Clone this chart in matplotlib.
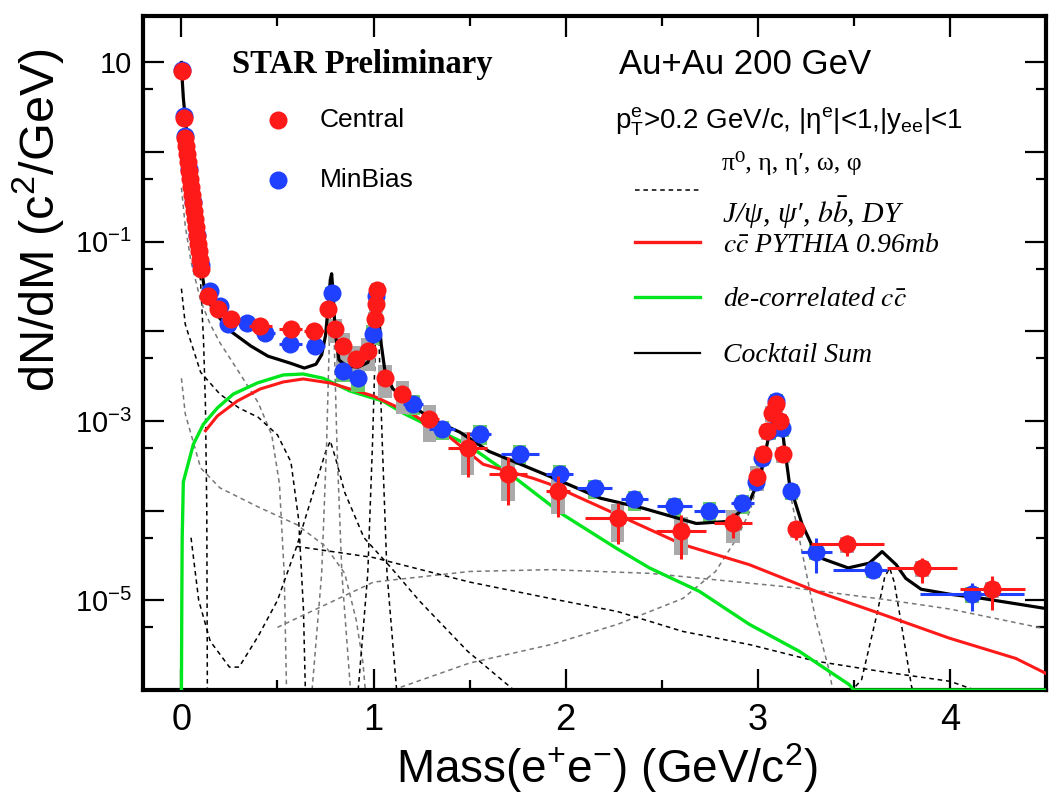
import numpy as np
import matplotlib
matplotlib.use('Agg')
import matplotlib.pyplot as plt
from matplotlib.ticker import FixedLocator, FuncFormatter, NullFormatter

# Central Au+Au data points
cen_mass = [0.005, 0.012, 0.02, 0.025, 0.03, 0.035, 0.04, 0.045, 0.05, 0.055,
            0.06, 0.065, 0.07, 0.075, 0.08, 0.085, 0.09, 0.095, 0.10,
            0.14, 0.19, 0.26, 0.41, 0.57, 0.69, 0.765, 0.80, 0.84, 0.91, 0.97,
            1.005, 1.012, 1.02, 1.06, 1.15, 1.29, 1.49, 1.70, 1.96, 2.27, 2.60,
            2.87, 2.995, 3.025, 3.05, 3.075, 3.095, 3.115, 3.13, 3.20, 3.465,
            3.855, 4.22]
cen_dndm = [8.1, 2.4, 1.45, 1.17, 0.95, 0.77, 0.62, 0.5, 0.41, 0.33, 0.27, 0.22,
            0.18, 0.145, 0.115, 0.095, 0.078, 0.062, 0.05,
            0.025, 0.0178, 0.0138, 0.0115, 0.0107, 0.0101, 0.0178, 0.0107, 0.0069,
            0.0049, 0.0061, 0.0138, 0.02, 0.029, 0.003, 0.002, 0.00105, 5.0e-4,
            2.55e-4, 1.65e-4, 8.2e-5, 5.9e-5, 7.2e-5, 2.4e-4, 4.3e-4, 7.7e-4,
            1.23e-3, 1.55e-3, 1.0e-3, 4.3e-4, 6.2e-5, 4.2e-5, 2.28e-5, 1.33e-5]
cen_yerr = [0.1, 0.05, 0.03, 0.02, 0.02, 0.01, 0.01, 0.01, 0.01, 0.005, 0.005,
            0.004, 0.004, 0.003, 0.003, 0.002, 0.002, 0.002, 0.002,
            0.001, 0.0008, 0.0006, 0.0005, 0.0006, 0.0006, 0.0012, 0.0008, 0.0006,
            0.0006, 0.0007, 0.0012, 0.0015, 0.002, 4e-4, 3e-4, 2e-4, 2.6e-4,
            1.4e-4, 8e-5, 4e-5, 3e-5, 2.2e-5, 5e-5, 6e-5, 8e-5, 1e-4, 1.2e-4,
            1e-4, 6e-5, 1.5e-5, 1.1e-5, 7e-6, 5.5e-6]
cen_xerr = [0.005] * 19 + [
            0.02, 0.03, 0.04, 0.06, 0.06, 0.05, 0.01, 0.02, 0.02, 0.03, 0.02,
            0.005, 0.005, 0.005, 0.02, 0.04, 0.05, 0.1, 0.1, 0.06, 0.17, 0.13,
            0.1, 0.01, 0.01, 0.01, 0.01, 0.01, 0.01, 0.01, 0.04, 0.19, 0.18, 0.17]
cen_sys = [0.05] * 19 + [
           0.1, 0.1, 0.1, 0.1, 0.1, 0.1, 0.15, 0.3, 0.4, 0.4, 0.4, 0.2, 0.2, 0.2,
           0.4, 0.4, 0.45, 0.5, 0.5, 0.45, 0.45, 0.45, 0.4, 0.3, 0.2, 0.2, 0.2,
           0.2, 0.2, 0.2, 0.2, 0.2, 0.2, 0.2]

# MinBias Au+Au data points
mb_mass = [0.005, 0.012, 0.02, 0.04, 0.06, 0.08, 0.10, 0.15, 0.20, 0.244, 0.343,
           0.436, 0.566, 0.696, 0.784, 0.842, 0.919, 0.997, 1.015, 1.205, 1.356,
           1.553, 1.761, 1.969, 2.151, 2.358, 2.566, 2.748, 2.919, 2.99, 3.023,
           3.06, 3.096, 3.127, 3.174, 3.304, 3.60, 4.114]
mb_dndm = [8.3, 2.5, 1.5, 0.65, 0.28, 0.12, 0.055, 0.028, 0.019, 0.0121, 0.0124,
           0.0096, 0.0072, 0.0069, 0.027, 0.0036, 0.003, 0.0094, 0.025, 1.55e-3,
           8.1e-4, 7.2e-4, 4.3e-4, 2.6e-4, 1.78e-4, 1.34e-4, 1.12e-4, 9.9e-5,
           1.21e-4, 2.1e-4, 3.9e-4, 7.7e-4, 1.67e-3, 8.4e-4, 1.65e-4, 3.5e-5,
           2.2e-5, 1.17e-5]
mb_yerr = [0.05, 0.03, 0.02, 0.01, 0.005, 0.003, 0.002, 0.001, 0.0008, 0.0005,
           0.0005, 0.0004, 0.0004, 0.0004, 0.001, 0.0003, 0.0003, 0.0006, 0.001,
           1e-4, 6e-5, 5e-5, 3e-5, 2e-5, 1.4e-5, 1.1e-5, 1e-5, 9e-6, 1e-5, 2e-5,
           3e-5, 5e-5, 8e-5, 6e-5, 2e-5, 1.5e-5, 4e-6, 4e-6]
mb_xlo = [0.005, 0.005, 0.005, 0.005, 0.005, 0.005, 0.005, 0.02, 0.02, 0.04, 0.08,
          0.05, 0.06, 0.05, 0.01, 0.02, 0.03, 0.01, 0.005, 0.05, 0.07, 0.06, 0.1,
          0.07, 0.09, 0.07, 0.09, 0.08, 0.06, 0.01, 0.01, 0.01, 0.01, 0.01, 0.02,
          0.08, 0.21, 0.27]
mb_xhi = [0.005, 0.005, 0.005, 0.005, 0.005, 0.005, 0.005, 0.02, 0.02, 0.04, 0.08,
          0.05, 0.06, 0.05, 0.01, 0.02, 0.03, 0.01, 0.005, 0.05, 0.07, 0.06, 0.1,
          0.07, 0.09, 0.07, 0.09, 0.08, 0.06, 0.01, 0.01, 0.01, 0.01, 0.01, 0.02,
          0.08, 0.07, 0.27]
mb_sys = [0.05, 0.05, 0.05, 0.05, 0.05, 0.05, 0.05, 0.1, 0.1, 0.1, 0.1, 0.1, 0.1,
          0.1, 0.15, 0.25, 0.3, 0.25, 0.15, 0.25, 0.25, 0.25, 0.25, 0.25, 0.25,
          0.25, 0.25, 0.25, 0.25, 0.2, 0.2, 0.2, 0.2, 0.2, 0.2, 0.2, 0.2, 0.2]

# Cocktail sum
sum_mass = [0.0, 0.005, 0.01, 0.02, 0.04, 0.06, 0.08, 0.1, 0.12, 0.135, 0.15, 0.2,
            0.255, 0.36, 0.45, 0.57, 0.64, 0.7, 0.73, 0.75, 0.765, 0.775, 0.782,
            0.79, 0.80, 0.82, 0.86, 0.92, 0.97, 0.99, 1.005, 1.015, 1.02, 1.03,
            1.04, 1.06, 1.1, 1.2, 1.3, 1.45, 1.6, 1.75, 1.92, 2.18, 2.4, 2.68,
            2.85, 2.95, 3.01, 3.06, 3.096, 3.13, 3.165, 3.23, 3.28, 3.34, 3.47,
            3.58, 3.647, 3.72, 3.77, 3.85, 4.0, 4.17, 4.5]
sum_dndm = [10.0, 6.0, 4.0, 2.4, 0.9, 0.35, 0.14, 0.055, 0.03, 0.022, 0.02, 0.014,
            0.0101, 0.0069, 0.0053, 0.0044, 0.0039, 0.0043, 0.0055, 0.009, 0.02,
            0.038, 0.044, 0.025, 0.01, 0.0048, 0.0041, 0.0040, 0.0045, 0.006,
            0.012, 0.028, 0.03, 0.012, 0.0072, 0.0035, 0.0023, 0.0015, 0.00105,
            7.5e-4, 4.6e-4, 3.4e-4, 2.4e-4, 1.38e-4, 1.07e-4, 7.2e-5, 7.6e-5,
            1.18e-4, 2.3e-4, 7.2e-4, 1.4e-3, 7.2e-4, 1.98e-4, 7.1e-5, 4.2e-5,
            2.9e-5, 2.3e-5, 2.6e-5, 3.5e-5, 2.5e-5, 1.76e-5, 1.33e-5, 1.17e-5,
            1.05e-5, 8.1e-6]

# c-cbar PYTHIA 0.96 mb
ccbar_mass = [0.125, 0.187, 0.29, 0.41, 0.53, 0.634, 0.774, 1.0, 1.2, 1.4, 1.57,
              1.83, 1.917, 2.265, 2.608, 2.956, 3.304, 3.647, 3.995, 4.343, 4.5]
ccbar_dndm = [7.8e-4, 1.14e-3, 1.67e-3, 2.28e-3, 2.73e-3, 2.95e-3, 2.66e-3, 1.9e-3,
              1.2e-3, 6.5e-4, 3.3e-4, 2.3e-4, 1.98e-4, 9.1e-5, 4.2e-5, 2.5e-5,
              1.26e-5, 7.0e-6, 3.8e-6, 2.25e-6, 1.53e-6]

# de-correlated c-cbar
decor_mass = [0.0, 0.002, 0.004, 0.01, 0.062, 0.114, 0.187, 0.27, 0.395, 0.53,
              0.634, 0.738, 0.878, 1.049, 1.153, 1.309, 1.486, 1.745, 1.984,
              2.265, 2.436, 2.696, 2.956, 3.216, 3.475, 3.5, 4.5]
decor_dndm = [1e-6, 1e-5, 5e-5, 2.1e-4, 5.5e-4, 9.2e-4, 1.4e-3, 2.0e-3, 2.66e-3,
              3.27e-3, 3.35e-3, 3.0e-3, 2.16e-3, 1.67e-3, 1.23e-3, 8.4e-4, 5.5e-4,
              2.25e-4, 9.1e-5, 3.8e-5, 2.3e-5, 1.26e-5, 5.4e-6, 2.7e-6, 1.15e-6,
              1e-6, 1e-6]

# individual cocktail components (dashed)
pi0_mass = [0.0, 0.01, 0.02, 0.04, 0.06, 0.08, 0.1, 0.115, 0.125, 0.132, 0.135]
pi0_dndm = [9.0, 4.5, 2.2, 0.8, 0.3, 0.11, 0.035, 0.008, 0.0015, 1e-4, 1e-6]
eta_mass = [0.0, 0.02, 0.05, 0.1, 0.15, 0.2, 0.3, 0.4, 0.47, 0.51, 0.535, 0.547]
eta_dndm = [0.4, 0.15, 0.06, 0.022, 0.012, 0.0075, 0.0035, 0.0016, 7e-4, 2e-4,
            2e-5, 1e-6]
omegad_mass = [0.0, 0.02, 0.1, 0.2, 0.3, 0.4, 0.5, 0.57, 0.61, 0.635, 0.645]
omegad_dndm = [0.03, 0.012, 0.0035, 0.002, 0.0014, 0.0011, 7e-4, 3.5e-4, 8e-5,
               8e-6, 1e-6]
etap_mass = [0.0, 0.02, 0.1, 0.2, 0.4, 0.6, 0.75, 0.85, 0.91, 0.945, 0.957]
etap_dndm = [3e-3, 1.2e-3, 3e-4, 1.8e-4, 1.1e-4, 7e-5, 4e-5, 2e-5, 6e-6, 2e-6, 1e-6]
rho_mass = [0.05, 0.09, 0.15, 0.25, 0.3, 0.4, 0.5, 0.6, 0.7, 0.75, 0.775, 0.8,
            0.85, 0.95, 1.1, 1.24, 1.49, 1.73]
rho_dndm = [5e-5, 1e-5, 3.5e-6, 1.8e-6, 1.8e-6, 4e-6, 1e-5, 4e-5, 2e-4, 4.5e-4,
            6e-4, 4e-4, 1.6e-4, 5e-5, 2.2e-5, 9.8e-6, 2.7e-6, 1e-6]
omega_mass = [0.68, 0.73, 0.755, 0.77, 0.782, 0.795, 0.81, 0.835, 0.88]
omega_dndm = [1e-6, 2e-5, 5e-4, 8e-3, 0.035, 8e-3, 5e-4, 2e-5, 1e-6]
phi_mass = [0.92, 0.97, 0.995, 1.01, 1.019, 1.028, 1.045, 1.07, 1.12]
phi_dndm = [1e-6, 2e-5, 6e-4, 8e-3, 0.024, 8e-3, 6e-4, 2e-5, 1e-6]
jpsi_mass = [1.1, 1.5, 1.92, 2.27, 2.61, 2.78, 2.89, 2.96, 3.02, 3.06, 3.097,
             3.127, 3.17, 3.23, 3.30, 3.37, 3.39]
jpsi_dndm = [1e-6, 2e-6, 3.2e-6, 5.4e-6, 1.05e-5, 2.1e-5, 4.9e-5, 1e-4, 3e-4,
             7.5e-4, 1.35e-3, 7e-4, 1.5e-4, 3.5e-5, 6.3e-6, 1.7e-6, 1e-6]
psi2s_mass = [3.45, 3.54, 3.62, 3.66, 3.686, 3.71, 3.745, 3.8, 3.82]
psi2s_dndm = [8e-7, 1.3e-6, 7e-6, 1.8e-5, 2.3e-5, 1.6e-5, 5.8e-6, 1.1e-6, 8e-7]
bb_mass = [0.5, 1.0, 1.5, 1.92, 2.44, 3.13, 3.65, 4.0, 4.48]
bb_dndm = [5e-6, 1.6e-5, 2.1e-5, 2.2e-5, 2e-5, 1.43e-5, 1.03e-5, 8e-6, 4.9e-6]
dy_mass = [0.6, 1.0, 1.5, 1.92, 2.27, 2.61, 2.96, 3.3, 3.65, 4.0, 4.13]
dy_dndm = [4e-5, 3e-5, 1.6e-5, 1.05e-5, 7.5e-6, 4.5e-6, 3.2e-6, 2.1e-6, 1.6e-6,
           1.25e-6, 1.0e-6]

RED = '#ff1a1a'
BLUE = '#2040ff'
GREEN = '#00e61e'

plt.rcParams['font.family'] = ['Liberation Sans', 'DejaVu Sans']
plt.rcParams['mathtext.fontset'] = 'stix'

fig = plt.figure(figsize=(10.55, 8.01), dpi=100)
ax = fig.add_axes([143 / 1055, 1 - 690 / 801, 903 / 1055, 674 / 801])
ax.set_xlim(-0.2, 4.5)
ax.set_ylim(1e-6, 33)
ax.set_yscale('log')

# dashed components
components = [(pi0_mass, pi0_dndm), (eta_mass, eta_dndm),
              (omegad_mass, omegad_dndm), (etap_mass, etap_dndm),
              (rho_mass, rho_dndm), (omega_mass, omega_dndm),
              (phi_mass, phi_dndm), (jpsi_mass, jpsi_dndm),
              (psi2s_mass, psi2s_dndm), (bb_mass, bb_dndm), (dy_mass, dy_dndm)]
for i, (m, y) in enumerate(components):
    col = 'black' if i % 2 == 0 else '#777777'
    ax.plot(m, y, color=col, lw=1.1, ls=(0, (3, 2.5)), zorder=2)

ax.plot(decor_mass, decor_dndm, color=GREEN, lw=2.4, zorder=3)
ax.plot(ccbar_mass, ccbar_dndm, color=RED, lw=2.2, zorder=3)

# systematic boxes
mb_y = np.array(mb_dndm)
mb_s = np.array(mb_sys)
ax.bar(mb_mass, mb_y * 2 * mb_s, bottom=mb_y * (1 - mb_s), width=0.07,
       color='#66cc66', zorder=4)
cen_y = np.array(cen_dndm)
cen_s = np.array(cen_sys)
ax.bar(cen_mass, cen_y * 2 * cen_s, bottom=cen_y * (1 - cen_s), width=0.07,
       color='#aaaaaa', zorder=5)

ax.plot(sum_mass, sum_dndm, color='black', lw=2.3, zorder=6)

ax.errorbar(mb_mass, mb_dndm, yerr=mb_yerr, xerr=[mb_xlo, mb_xhi], fmt='o',
            color=BLUE, ms=13, mew=0, elinewidth=2.2, capsize=0, zorder=7)
ax.errorbar(cen_mass, cen_dndm, yerr=cen_yerr, xerr=cen_xerr, fmt='o',
            color=RED, ms=13, mew=0, elinewidth=2.2, capsize=0, zorder=8)

# axes style
for s in ax.spines.values():
    s.set_linewidth(3)
ax.xaxis.set_major_locator(FixedLocator([0, 1, 2, 3, 4]))
ax.xaxis.set_minor_locator(FixedLocator([-0.5, 0.5, 1.5, 2.5, 3.5]))
ax.yaxis.set_major_locator(FixedLocator([10.0 ** k for k in range(-6, 2)]))
ax.yaxis.set_minor_locator(FixedLocator([5 * 10.0 ** k for k in range(-6, 1)]))


def ylab(v, pos):
    k = int(round(np.log10(v)))
    if k == 1:
        return '10'
    if k % 2 == 0:
        return ''
    return r'$\mathregular{10^{%d}}$' % k


ax.yaxis.set_major_formatter(FuncFormatter(ylab))
ax.yaxis.set_minor_formatter(NullFormatter())
ax.tick_params(which='both', direction='in', top=True, right=True, width=1.6)
ax.tick_params(which='major', length=15)
ax.tick_params(which='minor', length=7)
ax.tick_params(axis='x', labelsize=26, pad=9)
ax.tick_params(axis='y', labelsize=21, pad=8)


def fx(px):
    return (px - 143) / 903.0


def fy(py):
    return (690 - py) / 674.0


ax.set_xlabel(r'Mass(e$\mathregular{^{+}}$e$\mathregular{^{-}}$) (GeV/c$\mathregular{^{2}}$)',
              fontsize=33)
ax.xaxis.set_label_coords(fx(607), fy(768), transform=ax.transAxes)
ax.set_ylabel(r'dN/dM (c$\mathregular{^{2}}$/GeV)', fontsize=35)
ax.yaxis.set_label_coords(fx(38), fy(220), transform=ax.transAxes)
ax.xaxis.label.set_va('center')
ax.yaxis.label.set_va('center')

tr = ax.transAxes
ax.text(fx(232), fy(65), 'STAR Preliminary', transform=tr, fontsize=23.5,
        fontweight='bold', family=['Liberation Serif'], va='center', zorder=10)
ax.plot([fx(278)], [fy(120)], 'o', color=RED, ms=13, mew=0, transform=tr, zorder=10)
ax.plot([fx(278)], [fy(180)], 'o', color=BLUE, ms=13, mew=0, transform=tr, zorder=10)
ax.text(fx(320), fy(120), 'Central', transform=tr, fontsize=19, va='center')
ax.text(fx(320), fy(180), 'MinBias', transform=tr, fontsize=19, va='center')

ax.text(fx(619), fy(65), 'Au+Au 200 GeV', transform=tr, fontsize=25, va='center')
ax.text(fx(615), fy(122),
        r'p$\mathregular{_T^e}$>0.2 GeV/c, |η$\mathregular{^e}$|<1,|y$\mathregular{_{ee}}$|<1',
        transform=tr, fontsize=20, va='center')

serif = ['Liberation Serif', 'DejaVu Serif']
ax.text(fx(722), fy(163), 'π⁰, η, η′, ω, φ', transform=tr, fontsize=18.5,
        va='center', family=serif)
ax.plot([fx(635), fx(700)], [fy(190), fy(190)], color='black', lw=1.1,
        ls=(0, (3, 2.5)), transform=tr)
ax.text(fx(722), fy(213), r'J/ψ, ψ′, $b\bar{b}$, DY', transform=tr,
        fontsize=21.5, va='center', family=serif, style='italic')
ax.plot([fx(635), fx(700)], [fy(242), fy(242)], color=RED, lw=2.4, transform=tr)
ax.text(fx(723), fy(245), r'$c\bar{c}$ PYTHIA 0.96mb', transform=tr, fontsize=20,
        va='center', family=serif, style='italic')
ax.plot([fx(635), fx(700)], [fy(297), fy(297)], color=GREEN, lw=2.4, transform=tr)
ax.text(fx(723), fy(300), r'de-correlated $c\bar{c}$', transform=tr, fontsize=20,
        va='center', family=serif, style='italic')
ax.plot([fx(635), fx(700)], [fy(353), fy(353)], color='black', lw=1.6, transform=tr)
ax.text(fx(723), fy(355), 'Cocktail Sum', transform=tr, fontsize=20,
        va='center', family=serif, style='italic')

fig.savefig('out.png', dpi=100)
